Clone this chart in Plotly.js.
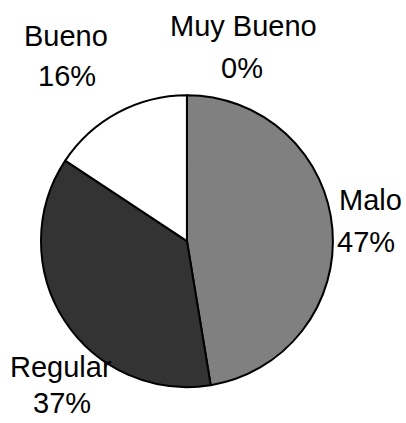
<!DOCTYPE html>
<html>
<head>
<meta charset="utf-8">
<script src="https://cdn.plot.ly/plotly-3.0.1.min.js"></script>
<style>
  html, body { margin: 0; padding: 0; background: #fff; }
  #chart { width: 406px; height: 423px; }
</style>
</head>
<body>
<div id="chart"></div>
<script>
// Categories and values (percent)
var categories = ["Malo", "Regular", "Bueno", "Muy Bueno"];
var values = [47.4, 36.9, 15.7, 0];
var sliceColors = ["#808080", "#333333", "#ffffff", "#ffffff"];

// Where each label sits (pixels in the 406x423 page): name line, percent line
var nameX = [370, 61, 66, 243];
var nameY = [200, 367, 36, 26];
var pctX = [366, 62, 67, 242];
var pctY = [242, 403, 76, 68];

var W = 406, H = 423;
var total = values.reduce((a, b) => a + b, 0);

var annotations = [];
categories.forEach((cat, i) => {
  var pct = Math.round(values[i] / total * 100) + "%";
  annotations.push({
    text: cat, xref: "paper", yref: "paper",
    x: nameX[i] / W, y: 1 - nameY[i] / H,
    xanchor: "center", yanchor: "middle", showarrow: false
  });
  annotations.push({
    text: pct, xref: "paper", yref: "paper",
    x: pctX[i] / W, y: 1 - pctY[i] / H,
    xanchor: "center", yanchor: "middle", showarrow: false
  });
});

var trace = {
  type: "pie",
  labels: categories,
  values: values,
  sort: false,
  direction: "clockwise",
  rotation: 0,
  textinfo: "none",
  hoverinfo: "label+percent",
  marker: { colors: sliceColors, line: { color: "#000000", width: 2 } },
  domain: { x: [0.101, 0.820], y: [0.0827, 0.777] }
};

var layout = {
  width: W,
  height: H,
  margin: { l: 0, r: 0, t: 0, b: 0 },
  showlegend: false,
  paper_bgcolor: "#ffffff",
  font: { family: "Liberation Sans, Arial, sans-serif", size: 29, color: "#000000" },
  annotations: annotations
};

Plotly.newPlot("chart", [trace], layout, { displayModeBar: false, staticPlot: true });
</script>
</body>
</html>
